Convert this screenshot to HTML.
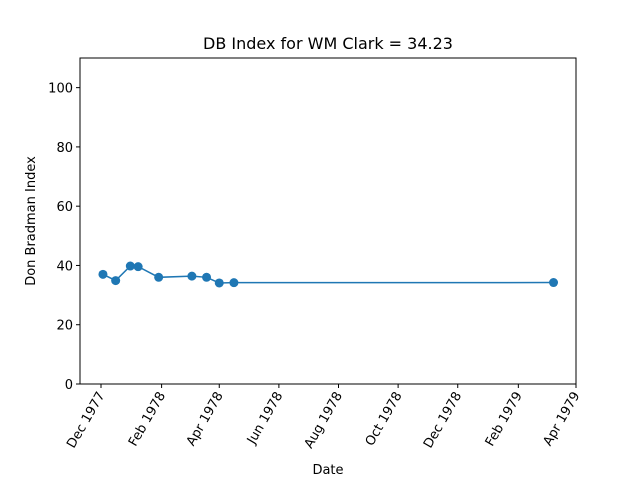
<!DOCTYPE html>
<html><head><meta charset="utf-8"><style>
body{margin:0;background:#fff;font-family:"Liberation Sans","DejaVu Sans",sans-serif;}
svg text{font-family:"DejaVu Sans","Liberation Sans",sans-serif;fill:#000}
</style></head><body>
<svg id="c" width="640" height="480"></svg>
<script>
const dates=["1977-12-03","1977-12-16","1977-12-31","1978-01-08","1978-01-29","1978-03-04","1978-03-19","1978-04-01","1978-04-16","1979-03-09"];
const values=[37.0,34.9,39.8,39.6,36.0,36.4,36.0,34.1,34.2,34.23];
const tickDates=["1977-12-01","1978-02-01","1978-04-01","1978-06-01","1978-08-01","1978-10-01","1978-12-01","1979-02-01","1979-04-01"];
const tickLabels=["Dec 1977","Feb 1978","Apr 1978","Jun 1978","Aug 1978","Oct 1978","Dec 1978","Feb 1979","Apr 1979"];
const yTicks=[0,20,40,60,80,100];
const NS="http://www.w3.org/2000/svg";
const svg=document.getElementById('c');
const L=80,R=576,T=58,B=384;
const t0=Date.parse("1977-12-01"),t1=Date.parse("1979-04-01");
const x=d=>101+(Date.parse(d)-t0)/(t1-t0)*(576-101);
const y=v=>B-v/110*(B-T);
function el(tag,a,txt){const e=document.createElementNS(NS,tag);for(const k in a)e.setAttribute(k,a[k]);if(txt!==undefined)e.textContent=txt;svg.appendChild(e);return e;}
let e=el('rect',{x:L,y:T,width:R-L,height:B-T,fill:'none',stroke:'#000','stroke-width':1});


yTicks.forEach(v=>{
 let t=el('line',{x1:L-4,x2:L,y1:y(v),y2:y(v),stroke:'#000'});
 
 
 let l=el('text',{x:L-7,y:y(v)+5,'text-anchor':'end','font-size':13},String(v));
 
 
});
tickDates.forEach((d,i)=>{
 const xx=x(d);
 let t=el('line',{x1:xx,x2:xx,y1:B,y2:B+4,stroke:'#000'});
 
 
 let l=el('text',{x:xx+4,y:B+11,'text-anchor':'end','font-size':13,transform:`rotate(-60 ${xx+4} ${B+11})`},tickLabels[i]);
 
 
});
let pl=el('polyline',{points:dates.map((d,i)=>x(d)+','+y(values[i])).join(' '),fill:'none',stroke:'#1f77b4','stroke-width':1.5});


dates.forEach((d,i)=>{
 let c=el('circle',{cx:x(d),cy:y(values[i]),r:4.5,fill:'#1f77b4'});
 
 
});
let ti=el('text',{x:328,y:49,'text-anchor':'middle','font-size':16},'DB Index for WM Clark = 34.23');


let xt=el('text',{x:328,y:474,'text-anchor':'middle','font-size':13},'Date');


let yt=el('text',{x:35,y:221,'text-anchor':'middle','font-size':13,transform:'rotate(-90 35 221)'},'Don Bradman Index');


</script>
</body></html>
